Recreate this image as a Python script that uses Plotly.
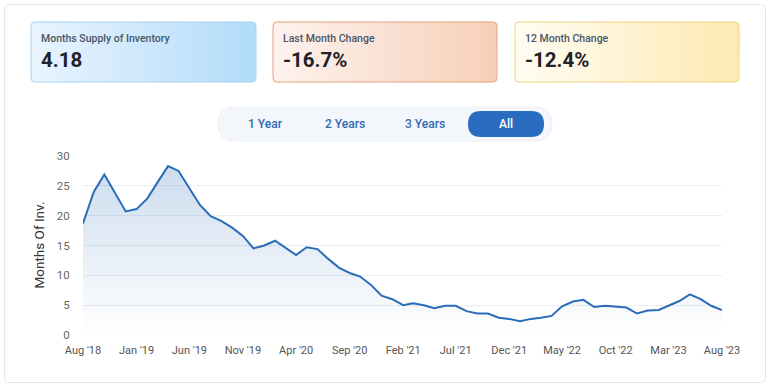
import plotly.graph_objects as go
import pandas as pd
import math

# ---------------- data ----------------
months = pd.date_range("2018-08-01", "2023-08-01", freq="MS")
values = [18.7, 24.0, 26.9, 23.7, 20.7, 21.1, 22.9, 25.5, 28.3, 27.5,
          24.6, 21.8, 19.9, 19.1, 18.0, 16.6, 14.5, 15.0, 15.8, 14.6,
          13.4, 14.7, 14.4, 12.8, 11.3, 10.4, 9.8, 8.4, 6.6, 6.0,
          5.0, 5.3, 5.0, 4.5, 4.9, 4.9, 4.0, 3.6, 3.6, 2.9,
          2.7, 2.3, 2.7, 2.9, 3.2, 4.8, 5.6, 5.9, 4.7, 4.9,
          4.7, 4.6, 3.6, 4.1, 4.2, 4.9, 5.7, 6.8, 6.0, 4.9, 4.18]
tick_dates = ["2018-08-01", "2019-01-01", "2019-06-01", "2019-11-01", "2020-04-01",
              "2020-09-01", "2021-02-01", "2021-07-01", "2021-12-01", "2022-05-01",
              "2022-10-01", "2023-03-01", "2023-08-01"]
tick_labels = ["Aug '18", "Jan '19", "Jun '19", "Nov '19", "Apr '20", "Sep '20", "Feb '21",
               "Jul '21", "Dec '21", "May '22", "Oct '22", "Mar '23", "Aug '23"]
y_ticks = [0, 5, 10, 15, 20, 25, 30]

card_titles = ["Months Supply of Inventory", "Last Month Change", "12 Month Change"]
card_values = ["4.18", "-16.7%", "-12.4%"]
range_buttons = ["1 Year", "2 Years", "3 Years", "All"]

# ---------------- layout constants (pixels) ----------------
W, H = 770, 388
PL, PR, PT, PB = 83, 722, 156, 335
FONT = "Roboto, Arial, sans-serif"
LINE = "#2b6cb8"


def rrect(x0, y0, x1, y1, r):
    return (f"M{x0+r},{y0} L{x1-r},{y0} Q{x1},{y0} {x1},{y0+r} L{x1},{y1-r} "
            f"Q{x1},{y1} {x1-r},{y1} L{x0+r},{y1} Q{x0},{y1} {x0},{y1-r} "
            f"L{x0},{y0+r} Q{x0},{y0} {x0+r},{y0} Z")


def rrect_pts(x0, y0, x1, y1, r, n=6):
    xs, ys = [], []
    corners = [(x1 - r, y0 + r, -90, 0), (x1 - r, y1 - r, 0, 90),
               (x0 + r, y1 - r, 90, 180), (x0 + r, y0 + r, 180, 270)]
    for cx, cy, a0, a1 in corners:
        for i in range(n + 1):
            a = math.radians(a0 + (a1 - a0) * i / n)
            xs.append(cx + r * math.cos(a))
            ys.append(cy + r * math.sin(a))
    xs.append(xs[0]); ys.append(ys[0])
    return xs, ys


fig = go.Figure()

# main data trace
fig.add_trace(go.Scatter(
    x=months, y=values, mode="lines",
    line=dict(color=LINE, width=2),
    fill="tozeroy",
    fillgradient=dict(type="vertical",
                      colorscale=[[0, "rgba(43,108,184,0.0)"], [1, "rgba(43,108,184,0.25)"]],
                      start=0, stop=30),
    hovertemplate="%{x|%b '%y}: %{y}<extra></extra>",
    xaxis="x", yaxis="y", showlegend=False,
))

# cards (overlay pixel axes)
cards = [
    (31, 256, "#e9f4fe", "#b2dbfa", "#a8d0ef"),
    (273, 497, "#fdf3ee", "#f7cfb8", "#e49f78"),
    (515, 739, "#fffcf3", "#fdeab2", "#f2d37c"),
]
shapes = []
annotations = []
for (x0, x1, c1, c2, bc), title, val in zip(cards, card_titles, card_values):
    xs, ys = rrect_pts(x0, 22, x1, 82, 4)
    fig.add_trace(go.Scatter(
        x=xs, y=ys, mode="lines", line=dict(width=0), fill="toself",
        fillgradient=dict(type="horizontal", colorscale=[[0, c1], [1, c2]], start=x0, stop=x1),
        hoverinfo="skip", xaxis="x2", yaxis="y2", showlegend=False))
    shapes.append(dict(type="path", path=rrect(x0, 22, x1, 82, 4), xref="x2", yref="y2",
                       line=dict(color=bc, width=1), fillcolor="rgba(0,0,0,0)", layer="above"))
    annotations.append(dict(x=x0 + 8, y=38.5, xref="x2", yref="y2", text=title, showarrow=False,
                            xanchor="left", yanchor="middle",
                            font=dict(family=FONT, size=10.5, color="#4a5566", weight=500)))
    annotations.append(dict(x=x0 + 8, y=60, xref="x2", yref="y2", text=val, showarrow=False,
                            xanchor="left", yanchor="middle",
                            font=dict(family=FONT, size=20.5, color="#1f2329", weight="bold")))

# outer card
shapes.insert(0, dict(type="path", path=rrect(4.5, 4.5, 765.5, 382.5, 4), xref="x2", yref="y2",
                      line=dict(color="#e3e7ec", width=1), fillcolor="rgba(0,0,0,0)", layer="below"))

# range buttons
shapes.append(dict(type="path", path=rrect(218, 107, 552, 141, 17), xref="x2", yref="y2",
                   line=dict(color="#edf0f4", width=1), fillcolor="#f3f6fa", layer="below"))
shapes.append(dict(type="path", path=rrect(468, 111, 544, 137, 13), xref="x2", yref="y2",
                   line=dict(width=0), fillcolor="#2a6dc0", layer="above"))
for cx, lab in zip([265, 345, 425, 506], range_buttons):
    annotations.append(dict(x=cx, y=124, xref="x2", yref="y2", text=lab, showarrow=False,
                            xanchor="center", yanchor="middle",
                            font=dict(family=FONT, size=12,
                                      color="#ffffff" if lab == "All" else "#2f6bb3", weight=500)))

# y-axis title
annotations.append(dict(x=38, y=(PT + PB) / 2, xref="x2", yref="y2", text="Months Of Inv.",
                        showarrow=False, textangle=-90, xanchor="center", yanchor="middle",
                        font=dict(family=FONT, size=13.5, color="#333333")))

fig.update_layout(
    template="none",
    width=W, height=H,
    margin=dict(l=0, r=0, t=0, b=0, pad=0, autoexpand=False),
    paper_bgcolor="white", plot_bgcolor="rgba(0,0,0,0)",
    font=dict(family=FONT),
    xaxis=dict(domain=[PL / W, PR / W], type="date", automargin=False,
               range=[months[0], months[-1]],
               tickvals=tick_dates, ticktext=tick_labels,
               showgrid=False, zeroline=False, showline=False,
               ticks="outside", ticklen=5, tickcolor="rgba(0,0,0,0)",
               tickfont=dict(family=FONT, size=11, color="#555555"),
               fixedrange=True),
    yaxis=dict(domain=[1 - PB / H, 1 - PT / H], range=[0, 30], tickvals=y_ticks, automargin=False,
               showgrid=True, gridcolor="#e9edf1", gridwidth=1, zeroline=False, showline=False,
               ticks="outside", ticklen=10, tickcolor="rgba(0,0,0,0)",
               tickfont=dict(family=FONT, size=11.5, color="#666666"),
               fixedrange=True),
    xaxis2=dict(domain=[0, 1], range=[0, W], visible=False, fixedrange=True, automargin=False),
    yaxis2=dict(domain=[0, 1], range=[H, 0], visible=False, fixedrange=True, automargin=False),
    shapes=shapes,
    annotations=annotations,
)

fig.write_html("out.html", config={"displayModeBar": False},
               post_script="document.body.style.margin='0';document.body.style.overflow='hidden';")
